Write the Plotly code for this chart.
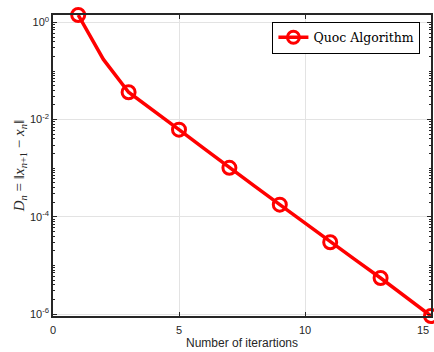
import plotly.graph_objects as go

# Iteration index and residual norm D_n = ||x_{n+1} - x_n||
iterations = list(range(1, 16))
residuals = [1.42, 0.173, 0.0366, 0.0153, 0.00622, 0.00252, 0.00102,
             4.26e-4, 1.78e-4, 7.35e-5, 3.0e-5, 1.3e-5, 5.5e-6, 2.24e-6, 9.1e-7]

# Markers are drawn on every second iteration
marker_iters = iterations[::2]
marker_vals = residuals[::2]

series_name = "Quoc Algorithm"
x_ticks = [0, 5, 10, 15]
y_ticks = [1, 1e-2, 1e-4, 1e-6]
y_ticktext = ["10<sup>0</sup>", "10<sup>-2</sup>", "10<sup>-4</sup>", "10<sup>-6</sup>"]

red = "#ff0000"
axis_col = "#262626"

fig = go.Figure()
fig.add_trace(go.Scatter(x=iterations, y=residuals, mode="lines",
                         line=dict(color=red, width=3.5), showlegend=False,
                         cliponaxis=False))
fig.add_trace(go.Scatter(x=marker_iters, y=marker_vals, mode="markers",
                         marker=dict(symbol="circle-open", size=13, color=red,
                                     line=dict(width=3, color=red)),
                         showlegend=False, cliponaxis=False))
# legend entry combining line and marker
fig.add_trace(go.Scatter(x=[None], y=[None], mode="lines+markers", name=series_name,
                         line=dict(color=red, width=3.5),
                         marker=dict(symbol="circle-open", size=12, color=red,
                                     line=dict(width=3, color=red))))

# last x tick label sits at the right page edge
fig.add_annotation(x=x_ticks[-1], y=0, xref="x", yref="paper", yanchor="top",
                   xanchor="right", yshift=-6, text=str(x_ticks[-1]), showarrow=False,
                   font=dict(size=11, color=axis_col))

fig.update_layout(
    width=434, height=352,
    margin=dict(l=53, r=1, t=15, b=36),
    paper_bgcolor="white", plot_bgcolor="white",
    font=dict(family="Liberation Sans, Arial, sans-serif", size=11, color=axis_col),
    legend=dict(x=0.972, y=0.978, xanchor="right", yanchor="top",
                bgcolor="white", bordercolor="#000000", borderwidth=1,
                font=dict(family="DejaVu Serif, serif", size=12.5, color="#000000"),
                itemwidth=30, tracegroupgap=0),
    xaxis=dict(range=[0, 15], tickvals=x_ticks[:-1], ticks="inside", ticklen=4,
               tickcolor=axis_col, showline=True, linecolor=axis_col, linewidth=1.5,
               mirror="ticks", showgrid=True, gridcolor="#e3e3e3", gridwidth=1,
               zeroline=False, ticklabelstandoff=3,
               title=dict(text="Number of iterartions", standoff=4,
                          font=dict(size=12, color=axis_col))),
    yaxis=dict(type="log", range=[-6.041, 0.1523], tickvals=y_ticks, ticktext=y_ticktext,
               ticks="inside", ticklen=4, tickcolor=axis_col,
               showline=True, linecolor=axis_col, linewidth=1.5, mirror="ticks",
               showgrid=True, gridcolor="#e3e3e3", gridwidth=1, zeroline=False,
               minor=dict(ticks="inside", ticklen=2.5, dtick="D1", tickcolor=axis_col,
                          showgrid=False),
               title=dict(text="<i>D<sub>n</sub></i> = ‖<i>x</i><sub><i>n</i>+1</sub> − <i>x<sub>n</sub></i>‖",
                          standoff=2,
                          font=dict(family="Liberation Serif, Times New Roman, serif",
                                    size=15, color=axis_col))),
)

fig.write_html("out.html")
